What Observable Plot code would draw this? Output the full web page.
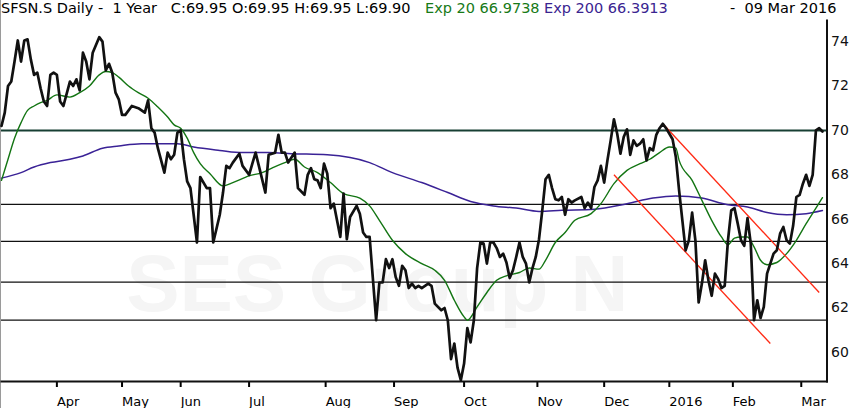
<!DOCTYPE html>
<html><head><meta charset="utf-8">
<script src="https://cdn.jsdelivr.net/npm/d3@7"></script>
<script src="https://cdn.jsdelivr.net/npm/@observablehq/plot@0.6"></script>
<style>
body{margin:0;background:#fff;}
#wrap{width:849px;border-left:1px solid #9a9a9a;background:#fff;}
#title{height:20px;position:relative;font:14.5px "DejaVu Sans",sans-serif;letter-spacing:0px;white-space:pre;color:#000;}
#title span{position:absolute;top:0px;}
</style></head><body>
<div id="wrap">
<div id="title"></div>
<div id="chart"></div>
</div>
<script>
// ---- data (x = trading-day index over the 1-year window) ----
const titleMain = "SFSN.S Daily -  1 Year   C:69.95 O:69.95 H:69.95 L:69.90";
const ema20Label = "Exp 20 66.9738";
const ema200Label = "Exp 200 66.3913";
const dateLabel = "-  09 Mar 2016";
const watermark = "SES Group N";

const closeDay = [0,1,2,3,4,5,6,7,8,9,10,11,12,13,14,15,16,17,18,19,21,22,23,24,25,26,27,28,30,31,32,33,34,35,36,37,38,40,42,44,45,46,47,48,50,51,52,53,54,55,56,57,58,60,61,63,64,65,67,68,69,70,71,73,74,76,77,78,79,81,82,83,84,85,86,87,88,90,91,93,94,95,96,97,98,99,100,101,102,104,105,106,107,109,110,111,112,113,115,116,117,118,119,120,121,122,123,124,125,126,127,128,129,131,132,133,135,136,137,138,139,140,141,142,143,144,145,146,147,148,149,150,151,152,153,154,155,156,157,158,159,160,161,162,163,164,165,166,167,168,169,170,171,172,173,174,175,176,178,179,180,181,182,183,184,185,186,187,188,189,190,191,192,193,194,195,196,197,198,199,200,201,202,203,204,206,207,208,209,210,211,212,213,214,215,216,217,218,219,220,221,222,223,224,225,226,227,228,229,230,231,232,233,234,235,236,237,238,239,240,241,242,243,244,245,246,247,248,249,250,251,252];
const close = [70.2,70.8,72.0,72.2,73.1,74.05,73.1,74.05,74.1,73.2,72.5,72.6,71.9,71.3,71.1,72.5,72.6,72.5,71.3,71.1,72.2,72.0,72.3,71.8,73.5,73.1,72.3,73.5,74.2,74.0,72.7,73.0,72.6,71.7,71.4,70.7,70.7,71.1,71.0,70.8,71.35,70.1,69.9,69.2,68.1,69.0,68.7,68.9,69.9,70.0,68.7,67.7,67.4,64.95,67.9,67.4,67.4,64.95,66.2,67.2,68.4,68.3,68.55,68.95,68.4,68.0,68.5,69.0,68.4,67.2,68.9,68.95,69.0,69.8,69.0,69.0,68.55,69.0,67.4,67.1,68.0,68.3,67.8,67.75,67.4,68.5,68.05,66.5,66.7,65.2,67.15,65.1,66.1,66.6,66.25,65.4,65.2,65.2,61.45,63.15,63.15,64.2,63.8,64.2,63.4,63.0,63.9,63.7,62.9,63.1,62.9,63.0,62.9,63.1,63.0,62.2,61.9,62.0,61.45,59.7,60.4,59.3,58.75,59.5,61.1,60.45,61.45,63.8,64.95,64.9,64.0,64.95,64.95,64.7,64.3,64.45,64.05,63.35,63.7,64.3,64.95,64.3,64.0,63.15,63.8,64.3,65.1,66.4,67.8,68.0,67.4,66.9,66.85,67.0,66.2,66.9,66.75,66.85,67.0,66.5,66.75,66.5,67.45,67.75,68.4,67.65,68.65,69.55,70.5,69.85,68.95,69.7,70.05,68.9,69.55,69.3,69.4,69.6,68.65,69.2,69.1,69.8,70.1,70.3,70.1,69.6,68.8,67.3,65.95,64.6,65.05,66.3,65.05,62.25,63.1,64.15,63.25,62.55,63.55,63.3,62.9,63.0,65.05,66.4,66.5,65.8,65.05,64.8,66.05,64.9,61.45,62.35,61.55,62.05,63.55,64.0,64.45,64.6,65.35,65.65,65.05,64.9,65.7,67.0,67.1,67.6,68.0,67.5,68.0,70.0,70.1,69.95];

const ema20Day = [0,2,4,6,8,10,12,14,17,21,24,27,30,32,34,36,39,42,45,48,51,53,55,57,59,61,64,68,71,76,80,83,87,90,93,97,101,105,110,113,116,120,124,129,133,136,139,142,143,146,149,152,155,159,162,165,167,170,173,176,181,184,188,192,196,199,202,205,207,208,212,215,218,221,223,225,227,229,231,233,235,238,241,244,247,250,252];
const ema20 = [67.75,68.7,69.65,70.35,70.9,71.1,71.25,71.35,71.6,71.5,71.7,72.0,72.5,72.65,72.6,72.4,72.0,71.7,71.45,71.05,70.6,70.25,70.1,69.65,69.0,68.5,68.05,67.5,67.65,67.95,68.1,68.3,68.55,68.7,68.35,68.1,67.65,67.15,66.95,66.6,65.95,65.05,64.45,64.0,63.7,63.25,62.35,61.6,61.45,62.05,62.7,63.25,63.45,63.6,63.8,63.75,64.15,64.95,65.4,65.95,66.25,66.7,67.6,68.2,68.5,68.7,69.0,69.25,69.2,68.65,67.75,66.85,65.95,65.2,64.85,65.15,65.2,65.2,64.75,64.15,63.95,64.05,64.45,65.05,65.8,66.5,66.97];

const ema200Day = [0,6,10,15,21,25,31,36,43,48,54,59,67,74,82,89,100,113,120,129,137,144,151,158,165,172,182,192,200,207,215,223,229,235,241,247,252];
const ema200 = [67.85,68.1,68.35,68.55,68.7,68.85,69.2,69.3,69.4,69.4,69.4,69.25,69.1,69.0,69.0,68.95,68.9,68.55,68.1,67.65,67.2,66.8,66.6,66.5,66.35,66.4,66.45,66.7,66.95,67.05,66.95,66.65,66.55,66.3,66.2,66.25,66.39];

const levelMain = [70];
const levels = [66.67, 65, 63.17, 61.45];

// downtrend channel (start/end day and price)
const channelDay1 = [203, 188];
const channelVal1 = [70.3, 68.0];
const channelDay2 = [251, 236];
const channelVal2 = [62.7, 60.4];

const monthTicks = [17, 37, 55, 76, 99.5, 120.5, 142, 164.5, 185, 205, 224.5, 245.5];
const monthLabels = ["Apr","May","Jun","Jul","Aug","Sep","Oct","Nov","Dec","2016","Feb","Mar"];
const yTicks = [60, 62, 64, 66, 68, 70, 72, 74];

// ---- build ----
const closeData = closeDay.map((d, i) => ({d, v: close[i]}));
const ema20Data = ema20Day.map((d, i) => ({d, v: ema20[i]}));
const ema200Data = ema200Day.map((d, i) => ({d, v: ema200[i]}));
const channel = channelDay1.map((d, i) => ({x1: d, y1: channelVal1[i], x2: channelDay2[i], y2: channelVal2[i]}));
const tickLabel = new Map(monthTicks.map((t, i) => [t, monthLabels[i]]));

const title = document.getElementById("title");
[[titleMain, "#000", 0], [ema20Label, "#177a17", 424], [ema200Label, "#3a2490", 543], [dateLabel, "#000", 729]].forEach(([t, c, l]) => {
  const s = document.createElement("span");
  s.textContent = t; s.style.color = c; s.style.left = l + "px";
  title.appendChild(s);
});

const chart = Plot.plot({
  width: 849,
  height: 388,
  marginLeft: 0,
  marginRight: 23.5,
  marginTop: 0,
  marginBottom: 27,
  style: {fontFamily: "'DejaVu Sans', sans-serif", background: "#fff", overflow: "visible"},
  x: {domain: [0, closeDay[closeDay.length - 1] + 1.4]},
  y: {domain: [58.69, 74.95]},
  marks: [
    Plot.text([watermark], {frameAnchor: "middle", dx: -37, dy: 84, fontSize: 80, fontWeight: "bold", fill: "#f5f5f5", fontFamily: "'Liberation Sans', sans-serif"}),
    Plot.ruleY(levels, {stroke: "#111", strokeWidth: 1.3}),
    Plot.ruleY(levelMain, {stroke: "#173f33", strokeWidth: 2}),
    Plot.line(ema200Data, {x: "d", y: "v", stroke: "#3a2296", strokeWidth: 1.5, curve: "monotone-x"}),
    Plot.line(ema20Data, {x: "d", y: "v", stroke: "#137513", strokeWidth: 1.4, curve: "monotone-x"}),
    Plot.link(channel, {x1: "x1", y1: "y1", x2: "x2", y2: "y2", stroke: "#ff2a14", strokeWidth: 1.3}),
    Plot.line(closeData, {x: "d", y: "v", stroke: "#111", strokeWidth: 2.7, strokeLinejoin: "round"}),
    Plot.axisY({anchor: "right", ticks: yTicks, tickSize: 0, tickPadding: 4, fontSize: 14, label: null, fill: "#111"}),
    Plot.axisX({ticks: monthTicks, tickSize: 6, strokeWidth: 2, tickPadding: 9, textAnchor: "start", dx: 0, fontSize: 13, label: null, tickFormat: d => tickLabel.get(d)}),
    Plot.frame({anchor: "right", strokeWidth: 2, stroke: "#111"}),
    Plot.frame({anchor: "bottom", strokeWidth: 2, stroke: "#111"})
  ]
});
document.getElementById("chart").appendChild(chart);
</script>
</body></html>
